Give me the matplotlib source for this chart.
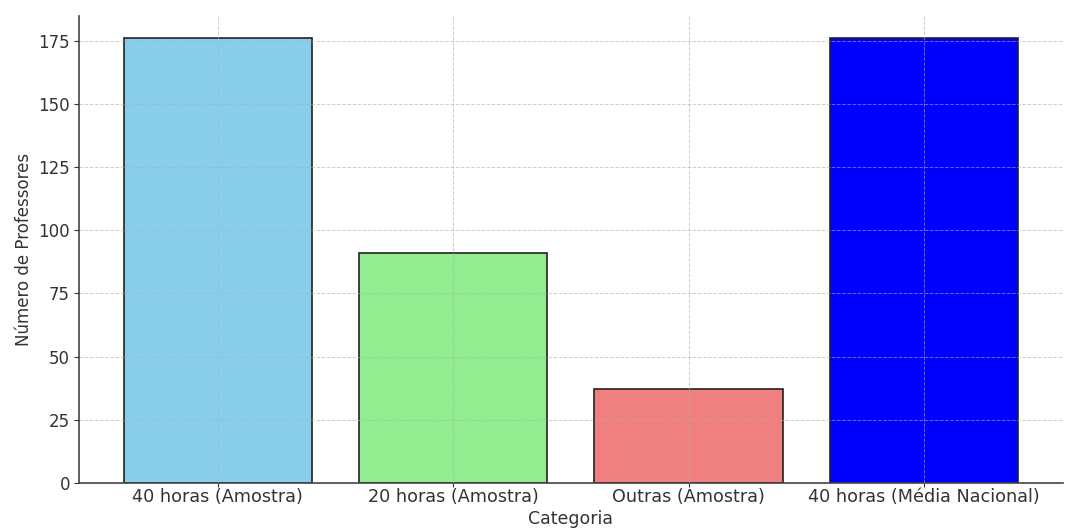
import matplotlib
matplotlib.use("Agg")
import matplotlib.pyplot as plt

categorias = ["40 horas (Amostra)", "20 horas (Amostra)", "Outras (Amostra)", "40 horas (Média Nacional)"]
professores = [176, 91, 37, 176]
cores = ["skyblue", "lightgreen", "lightcoral", "blue"]

plt.rcParams["font.family"] = ["DejaVu Sans"]
texto = "#333333"

fig, ax = plt.subplots(figsize=(10.68, 5.31), dpi=100)
ax.bar(categorias, professores, color=cores, edgecolor="#222222", linewidth=1.2, zorder=2)
ax.grid(True, linestyle="--", linewidth=0.7, alpha=0.6, zorder=3)
ax.set_axisbelow(False)

ax.set_xlabel("Categoria", fontsize=12.5, color=texto, labelpad=3)
ax.set_ylabel("Número de Professores", fontsize=12, color=texto)
ax.tick_params(axis="x", labelsize=12.7, colors=texto, length=3, pad=0.8)
ax.tick_params(axis="y", labelsize=12, colors=texto, length=3.5, pad=3)
for lado in ["top", "right"]:
    ax.spines[lado].set_visible(False)
for lado in ["left", "bottom"]:
    ax.spines[lado].set_color("#444444")
    ax.spines[lado].set_linewidth(1.2)

fig.subplots_adjust(left=0.074, right=0.995, top=0.97, bottom=0.0904)
fig.savefig("out.png", dpi=100)
